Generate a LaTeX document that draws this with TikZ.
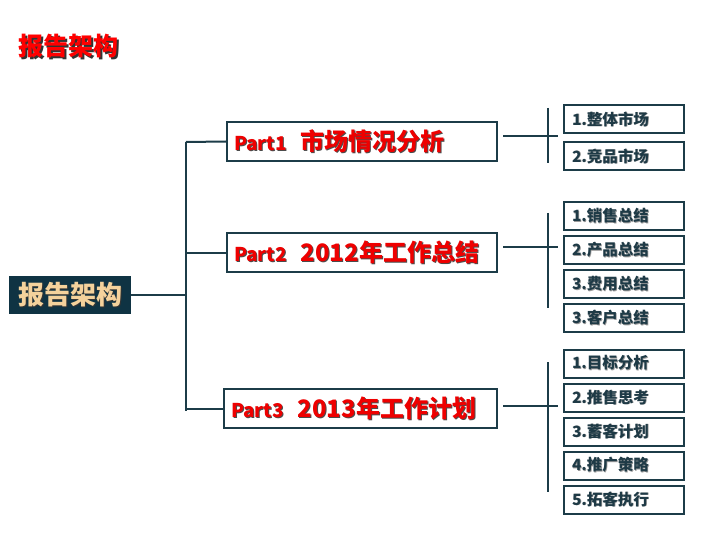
\documentclass[tikz,border=0pt]{standalone}
\usepackage{fontspec}
\setmainfont{Noto Sans CJK SC}
\usetikzlibrary{positioning}

\definecolor{lineblue}{HTML}{1C3C48}
\definecolor{rootfill}{HTML}{0F3343}
\definecolor{rootword}{HTML}{F4D29C}
\definecolor{partred}{HTML}{EE0000}
\definecolor{itemword}{HTML}{1E3A46}

% text with a small dark shadow
\newcommand{\shtext}[4][1pt]{\makebox[0pt][l]{\hspace{#1}\raisebox{-#1}{\color{#3}#4}}{\color{#2}#4}}

\begin{document}
\begin{tikzpicture}[x=1pt,y=-1pt,
    line/.style={draw=lineblue,line width=2pt},
    rootbox/.style={fill=rootfill,minimum width=122pt,minimum height=38pt,inner sep=0pt,
        font=\fontsize{26}{28}\selectfont\bfseries},
    partbox/.style={draw=lineblue,line width=2pt,fill=white,text width=256pt,minimum height=39pt,
        inner xsep=7pt,inner ysep=0pt,align=left},
    itembox/.style={draw=lineblue,line width=2pt,fill=white,text width=104pt,minimum height=28pt,
        inner xsep=8pt,inner ysep=0pt,align=left,font=\fontsize{15.5}{17}\selectfont\bfseries},
    node distance=4pt]
  \useasboundingbox (0,0) rectangle (720,540);

  \node (title) at (69,47) {\fontsize{25}{27}\selectfont\bfseries\shtext[1.5pt]{red}{black!80}{报告架构}};
  \node[rootbox] (root) at (70,295) {\shtext[1.5pt]{rootword}{black!80}{报告架构}};

  \node[partbox] (p1) at (362,141.5) {\bfseries\shtext{partred}{black!70}{\fontsize{19}{22}\selectfont Part1\hspace{14pt}\fontsize{24}{26}\selectfont 市场情况分析}};
  \node[partbox] (p2) at (362,252.5) {\bfseries\shtext{partred}{black!70}{\fontsize{19}{22}\selectfont Part2\hspace{14pt}\fontsize{24}{26}\selectfont 2012年工作总结}};
  \node[partbox,text width=259pt] (p3) at (360.5,408.5) {\bfseries\shtext{partred}{black!70}{\fontsize{19}{22}\selectfont Part3\hspace{14pt}\fontsize{24}{26}\selectfont 2013年工作计划}};

  % left tree
  \coordinate (top) at (186,142);
  \coordinate (bot) at (186,411);
  \draw[line] (top) -- (bot);
  \draw[line] (root.east) -- (root.east -| top);
  \draw[line] (top) -- (p1.west);
  \draw[line] (p2.west -| top) -- (p2.west);
  \draw[line] (p3.west -| top) -- (p3.west);

  % group 1
  \node[itembox] (a1) at (624,119.5) {\shtext[0.8pt]{itemword}{black!40}{1.整体市场}};
  \node[itembox] (a2) [below=7pt of a1] {\shtext[0.8pt]{itemword}{black!40}{2.竞品市场}};
  \coordinate (a-in) at (503,136);
  \coordinate (a-out) at (558,136);
  \coordinate (a-up) at (548,108);
  \coordinate (a-dn) at (548,163);
  \draw[line] (a-in) -- (a-out);
  \draw[line] (a-up) -- (a-dn);

  % group 2
  \node[itembox] (b1) at (624,216) {\shtext[0.8pt]{itemword}{black!40}{1.销售总结}};
  \node[itembox] (b2) [below=of b1] {\shtext[0.8pt]{itemword}{black!40}{2.产品总结}};
  \node[itembox] (b3) [below=of b2] {\shtext[0.8pt]{itemword}{black!40}{3.费用总结}};
  \node[itembox] (b4) [below=of b3] {\shtext[0.8pt]{itemword}{black!40}{3.客户总结}};
  \coordinate (b-in) at (503,247);
  \coordinate (b-out) at (558,247);
  \coordinate (b-up) at (548,213);
  \coordinate (b-dn) at (548,308);
  \draw[line] (b-in) -- (b-out);
  \draw[line] (b-up) -- (b-dn);

  % group 3
  \node[itembox] (c1) at (624,363.5) {\shtext[0.8pt]{itemword}{black!40}{1.目标分析}};
  \node[itembox] (c2) [below=of c1] {\shtext[0.8pt]{itemword}{black!40}{2.推售思考}};
  \node[itembox] (c3) [below=of c2] {\shtext[0.8pt]{itemword}{black!40}{3.蓄客计划}};
  \node[itembox] (c4) [below=of c3] {\shtext[0.8pt]{itemword}{black!40}{4.推广策略}};
  \node[itembox] (c5) [below=of c4] {\shtext[0.8pt]{itemword}{black!40}{5.拓客执行}};
  \coordinate (c-in) at (503,406);
  \coordinate (c-out) at (558,406);
  \coordinate (c-up) at (548,362);
  \coordinate (c-dn) at (548,492);
  \draw[line] (c-in) -- (c-out);
  \draw[line] (c-up) -- (c-dn);
\end{tikzpicture}
\end{document}
